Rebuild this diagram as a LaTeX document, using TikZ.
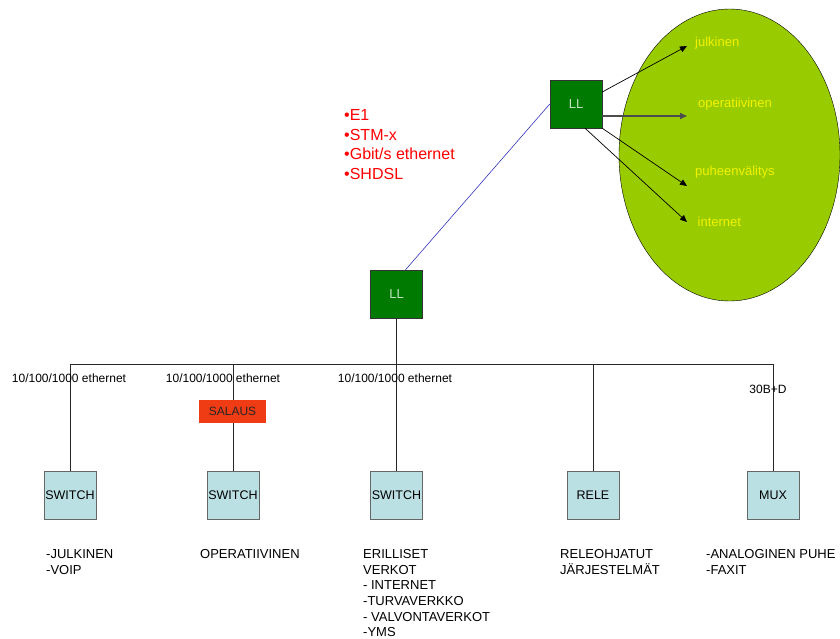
\documentclass[tikz,border=0pt]{standalone}
\usepackage{fontspec}
\setmainfont{Liberation Sans}
\usetikzlibrary{arrows.meta,shapes.geometric}
\definecolor{leafgreen}{HTML}{99CC00}
\definecolor{boxgreen}{HTML}{007A00}
\definecolor{lltext}{HTML}{BFE3BF}
\definecolor{devblue}{HTML}{BBE0E3}
\definecolor{salred}{HTML}{F03C14}
\definecolor{netyellow}{HTML}{F2F200}
\definecolor{linkblue}{HTML}{3333BB}
\tikzset{
  llbox/.style={draw=black!80, fill=boxgreen, minimum width=52pt, minimum height=48pt,
    inner sep=0pt, text=lltext, font=\fontsize{13}{15}\selectfont},
  devbox/.style={draw=black!60, fill=devblue, minimum width=52pt, minimum height=48pt,
    inner sep=0pt, font=\fontsize{12.5}{15}\selectfont},
  cryptbox/.style={fill=salred, minimum width=67pt, minimum height=23pt, inner sep=0pt,
    text=black!85, font=\fontsize{12}{14}\selectfont},
  smalllabel/.style={inner sep=0pt, font=\fontsize{12}{14}\selectfont},
  netlabel/.style={inner sep=0pt, anchor=west, text=netyellow, font=\fontsize{13}{15}\selectfont},
  desc/.style={inner sep=0pt, anchor=north west, align=left, font=\fontsize{13}{15.6}\selectfont},
  bus/.style={draw=black!85, line width=0.8pt},
  flow/.style={draw=black, line width=0.7pt, -{Triangle[length=7pt,width=6pt]}},
}
\begin{document}
\begin{tikzpicture}[x=1pt, y=-1pt]
\useasboundingbox (0,0) rectangle (840,638);

% service cloud
\node[draw=black, fill=leafgreen, ellipse, minimum width=221pt, minimum height=292pt,
  inner sep=0pt] (cloud) at (729.5,155) {};

% line terminals
\node[llbox] (ll1) at (576,104) {LL};
\node[llbox] (ll2) at (396.5,294) {LL};

% link types
\node[inner sep=0pt, anchor=west, align=left, text=red,
  font=\fontsize{16}{19.7}\selectfont] (types) at (344,144.5)
  {•E1\\•STM-x\\•Gbit/s ethernet\\•SHDSL};

\draw[draw=linkblue, line width=0.6pt] ([xshift=9pt]ll2.north) -- (ll1.west);

% services inside the cloud
\node[netlabel] (s1) at (695,43) {julkinen};
\node[netlabel] (s2) at (698,104) {operatiivinen};
\node[netlabel] (s3) at (695,172.5) {puheenvälitys};
\node[netlabel] (s4) at (697.5,222) {internet};
\coordinate (e1) at (687,46);
\coordinate (e2) at (687,116);
\coordinate (e3) at (687,186);
\coordinate (e4) at (687,222);
\draw[flow] ([yshift=12pt]ll1.east) -- (e1);
\draw[flow, draw=black!70, line width=1.6pt] ([yshift=-12pt]ll1.east) -- (e2);
\draw[flow] (ll1.south east) -- (e3);
\draw[flow] ([xshift=9pt]ll1.south) -- (e4);

% end devices
\node[devbox] (d1) at (70,495) {SWITCH};
\node[devbox] (d2) at (233,495) {SWITCH};
\node[devbox] (d3) at (396.5,495) {SWITCH};
\node[devbox] (d4) at (593,495) {RELE};
\node[devbox] (d5) at (773,495) {MUX};

% distribution bus
\coordinate (b1) at (70,364);
\coordinate (b2) at (233,364);
\coordinate (b4) at (593,364);
\coordinate (b5) at (773,364);
\draw[bus] (b1) -- (b5);
\draw[bus] (ll2) -- (d3);
\draw[bus] (b1) -- (d1);
\draw[bus] (b2) -- (d2);
\draw[bus] (b4) -- (d4);
\draw[bus] (b5) -- (d5);

\node[cryptbox] (sal) at (232.5,411.5) {SALAUS};

% interface labels
\node[smalllabel] (i1) at (69,378) {10/100/1000 ethernet};
\node[smalllabel] (i2) at (223,378) {10/100/1000 ethernet};
\node[smalllabel] (i3) at (395,378) {10/100/1000 ethernet};
\node[smalllabel] (i5) at (768,389.5) {30B+D};

% descriptions
\node[desc] (t1) at (46,549.5) {-JULKINEN\\-VOIP};
\node[desc] (t2) at (200,549.5) {OPERATIIVINEN};
\node[desc] (t3) at (363,549.5) {ERILLISET\\VERKOT\\- INTERNET\\-TURVAVERKKO\\- VALVONTAVERKOT\\-YMS};
\node[desc] (t4) at (560,549.5) {RELEOHJATUT\\JÄRJESTELMÄT};
\node[desc] (t5) at (706,549.5) {-ANALOGINEN PUHE\\-FAXIT};
\end{tikzpicture}
\end{document}
